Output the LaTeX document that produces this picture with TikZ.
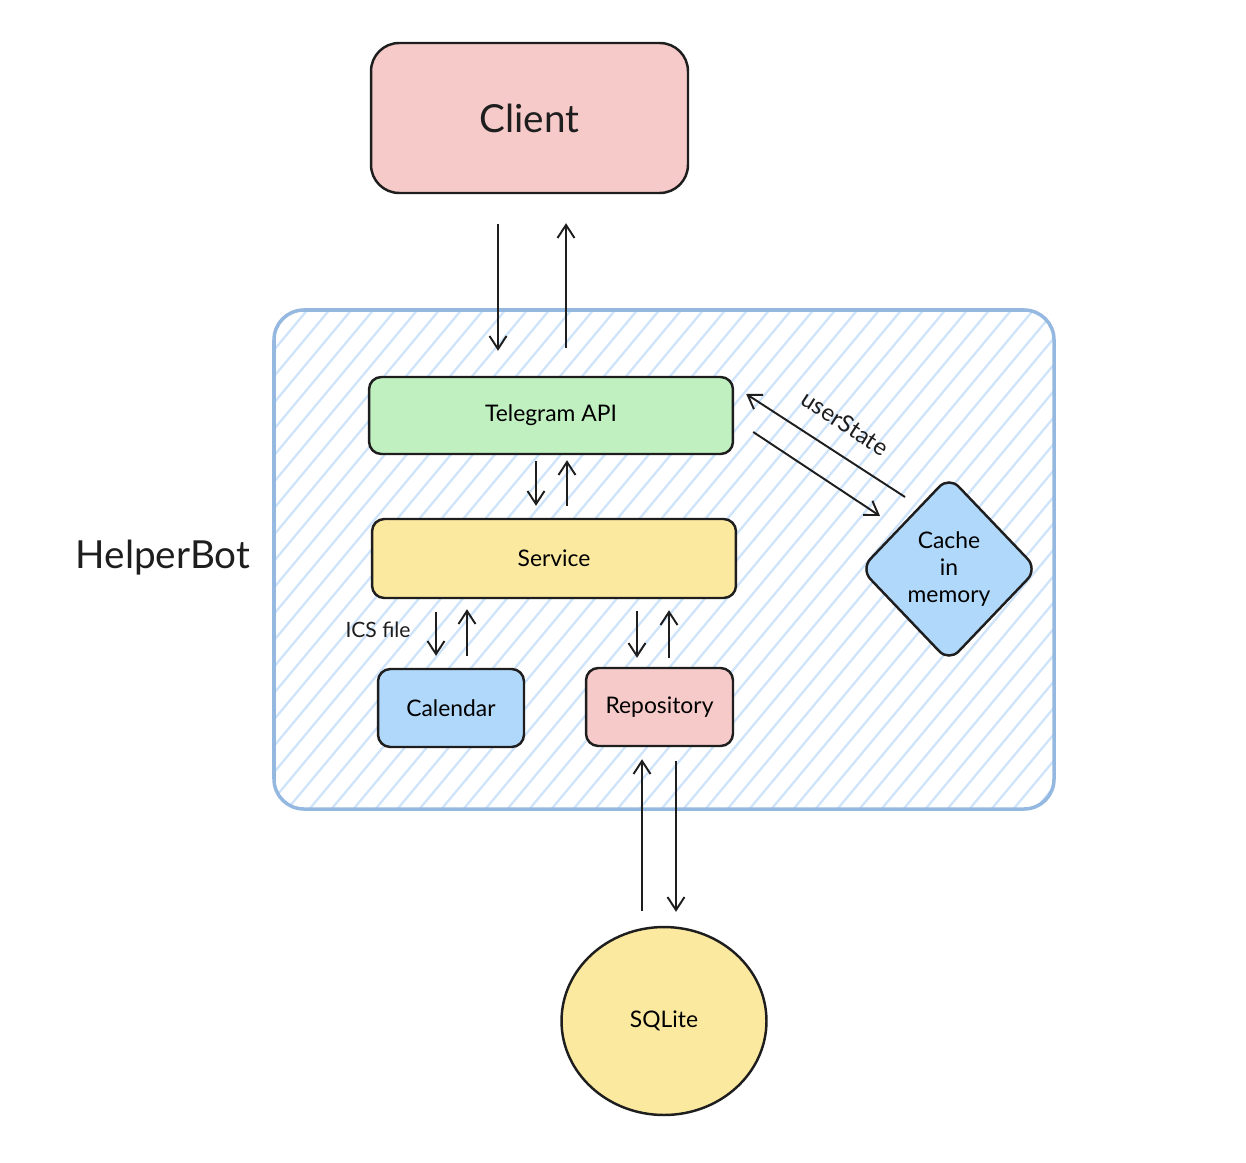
\documentclass[tikz,border=0pt]{standalone}
\usepackage{fontspec}
\setmainfont{Lato}
\usepackage{tikz}
\usetikzlibrary{arrows.meta,shapes.geometric,calc}

\definecolor{ink}{HTML}{1E1E1E}
\definecolor{clientred}{HTML}{F7CACA}
\definecolor{tggreen}{HTML}{C0F0C0}
\definecolor{srvyellow}{HTML}{FBE9A0}
\definecolor{calblue}{HTML}{B0D8FB}
\definecolor{frameblue}{HTML}{94B8E0}
\definecolor{hatchblue}{HTML}{CFE4FA}

\tikzset{
  box/.style={draw=ink,line width=1.4pt,rounded corners=7pt,inner sep=0pt,
    font=\fontsize{13}{15.5}\selectfont},
  arr/.style={draw=ink,line width=1.1pt,-{Straight Barb[length=2.6mm,width=3.4mm]}},
  small/.style={font=\fontsize{12}{14}\selectfont,text=ink},
  big/.style={font=\fontsize{22}{26}\selectfont,text=ink}
}

\begin{document}
\begin{tikzpicture}[x=0.02cm,y=-0.02cm]
    \useasboundingbox (0,0) rectangle (1246,1162);
    % HelperBot frame with hatching
    \begin{scope}
      \clip[rounded corners=17pt] (274,310) rectangle (1054,809);
      \foreach \i in {-500,-478,...,1060}
        \draw [hatchblue,line width=1.3pt] (\i,830) -- ++(460,-552);
    \end{scope}
    \draw [frameblue,line width=2pt,rounded corners=17pt] (274,310) rectangle (1054,809);
    \node [big] (bot) at (163,558) {HelperBot};

    % boxes
    \node [box,big,fill=clientred,rounded corners=16pt,minimum width=6.34cm,minimum height=3cm] (client) at (529.5,118) {Client};
    \node [box,fill=tggreen,minimum width=7.28cm,minimum height=1.54cm] (tg) at (551,415.5) {Telegram API};
    \node [box,fill=srvyellow,minimum width=7.28cm,minimum height=1.58cm] (srv) at (554,558.5) {Service};
    \node [box,fill=calblue,minimum width=2.92cm,minimum height=1.56cm] (cal) at (451,708) {Calendar};
    \node [box,fill=clientred,minimum width=2.94cm,minimum height=1.56cm] (repo) at (659.5,707) {Repository};
    \node [box,ellipse,fill=srvyellow,minimum width=4.1cm,minimum height=3.76cm] (db) at (664,1021) {SQLite};
    \node [box,diamond,fill=calblue,rounded corners=8pt,align=center,minimum width=3.55cm,minimum height=3.72cm,
      font=\fontsize{13}{15.5}\selectfont] (cache) at (949,569) {Cache\\in\\memory};

    % connectors
    \draw [arr] ($(client.south)+(-31.5,30)$) -- ($(tg.north)+(-53,-25)$);
    \draw [arr] ($(tg.north)+(15,-28)$) -- ($(client.south)+(36.5,29)$);
    \draw [arr] ($(tg.south)+(-15,6)$) -- ($(srv.north)+(-18,-12)$);
    \draw [arr] ($(srv.north)+(13,-12)$) -- ($(tg.south)+(16,5)$);
    \draw [arr] ($(srv.south)+(-118,13)$) -- ($(cal.north)+(-15,-12)$);
    \draw [arr] ($(cal.north)+(16,-12)$) -- ($(srv.south)+(-87,10)$);
    \draw [arr] ($(srv.south)+(83,12)$) -- ($(repo.north)+(-22.5,-9)$);
    \draw [arr] ($(repo.north)+(9.5,-9)$) -- ($(srv.south)+(115,11)$);
    \draw [arr] ($(db.north)+(-22,-15)$) -- ($(repo.south)+(-17.5,12)$);
    \draw [arr] ($(repo.south)+(16.5,14)$) -- ($(db.north)+(12,-14)$);
    \draw [arr] ($(cache)+(-44,-72)$) -- ($(tg.east)+(12,-21.5)$);
    \draw [arr] ($(tg.east)+(19,16.5)$) -- ($(cache)+(-69,-53)$);

    % labels
    \node [small] (ics) at (378,630) {ICS file};
    \node [small,font=\fontsize{13.5}{16}\selectfont,rotate=-33] (state) at (845,423) {userState};
\end{tikzpicture}
\end{document}
